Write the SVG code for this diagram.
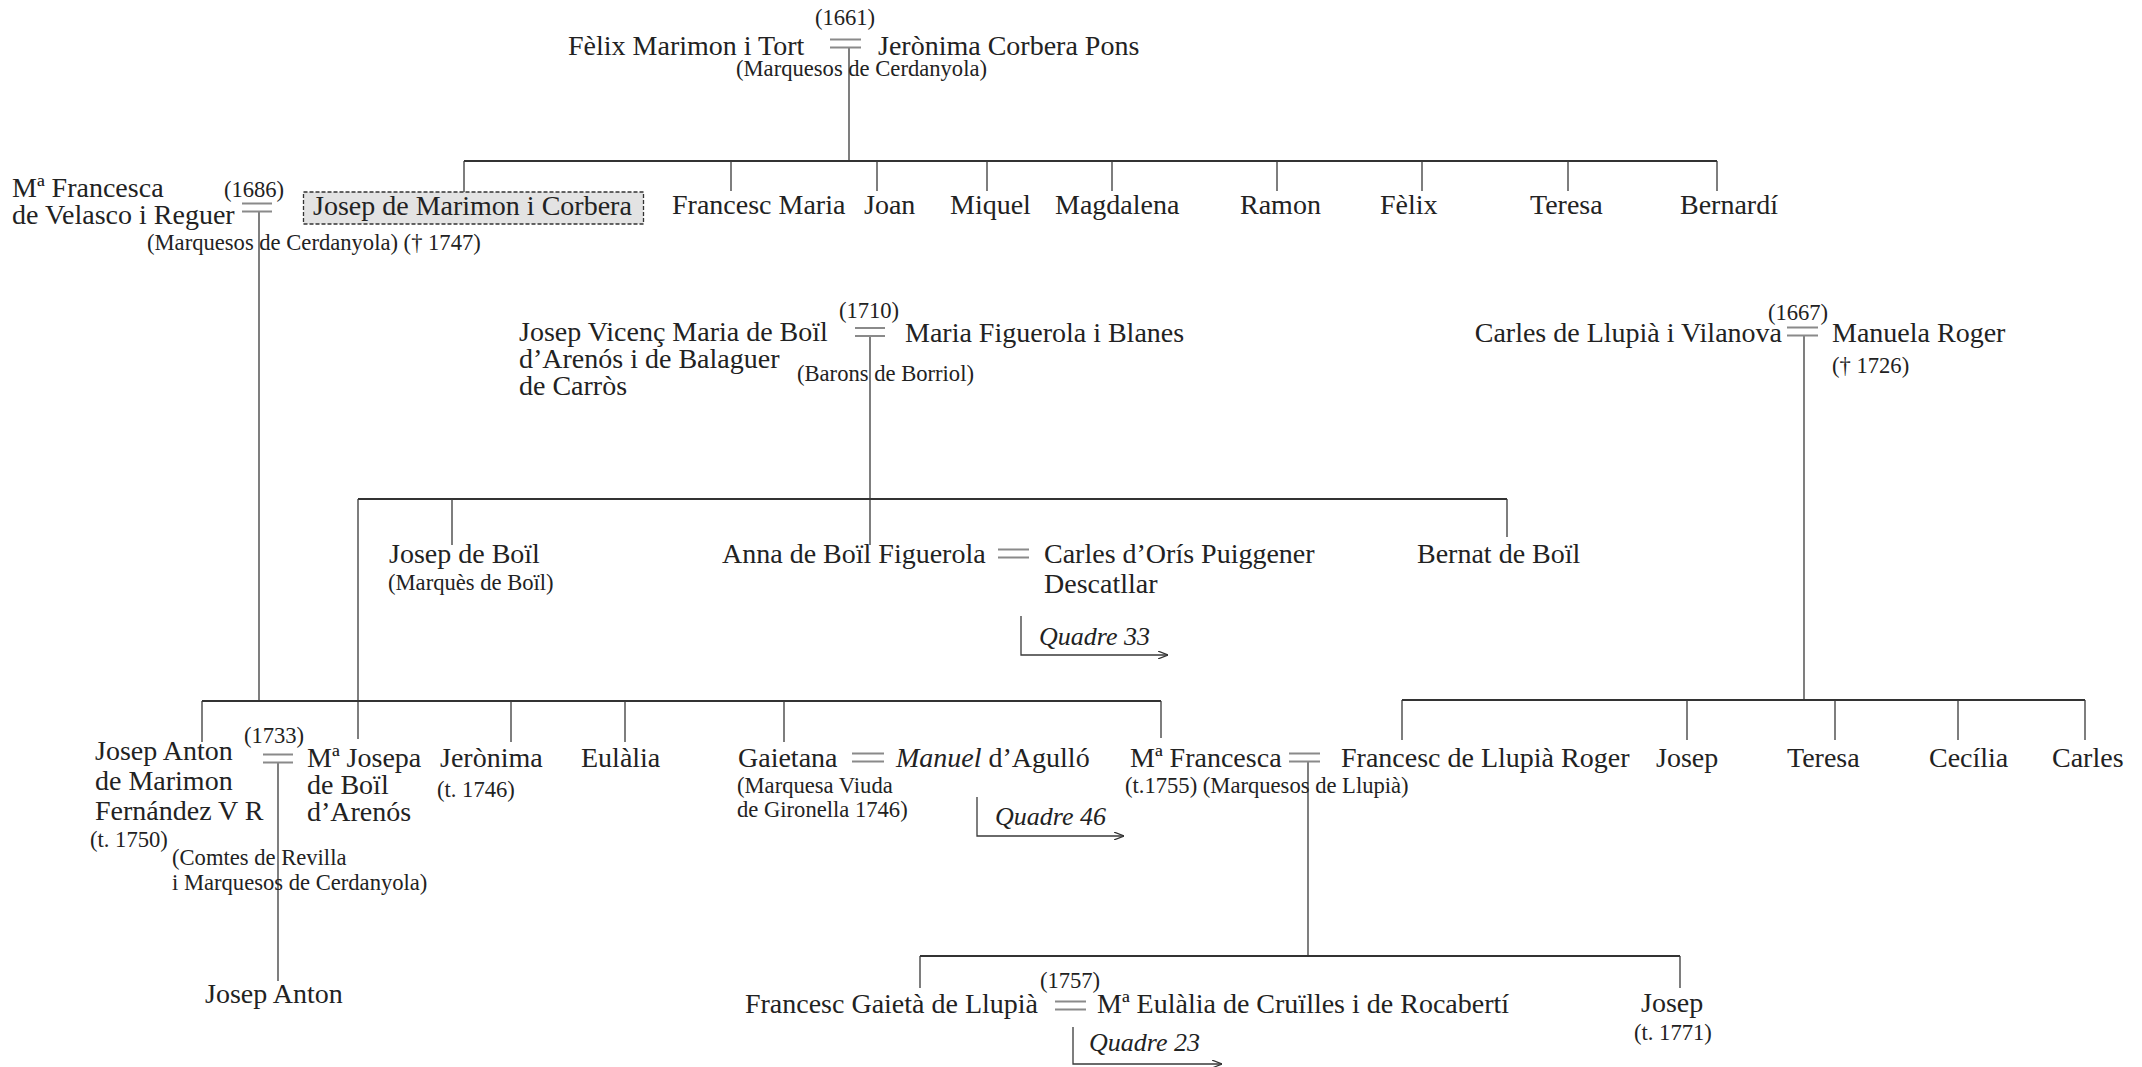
<svg xmlns="http://www.w3.org/2000/svg" width="2142" height="1067" viewBox="0 0 2142 1067">
<defs>
<style>
text{font-family:"Liberation Serif","DejaVu Serif",serif;font-size:28px;fill:#222}
.s{font-size:22.6px}
.i{font-style:italic;font-size:26px}
.c{stroke:#3a3a3a;stroke-width:1.3;fill:none}
.h{stroke:#333;stroke-width:2;fill:none}
.eq{stroke:#8a8a8a;stroke-width:2;fill:none}
.box{fill:#e3e3e3;stroke:#333;stroke-width:1.3;stroke-dasharray:4 2}
</style>
<marker id="arr" viewBox="0 0 10 8" refX="10" refY="4" markerWidth="10" markerHeight="8" markerUnits="userSpaceOnUse" orient="auto">
<path d="M0,0 L10,4 L0,8" fill="none" stroke="#333" stroke-width="1.2"/>
</marker>
</defs>
<rect width="2142" height="1067" fill="#fff"/>

<g id="connectors">
<!-- generation 1 -->
<path class="c" d="M849,48 V161"/>
<path class="h" d="M464,161 H1717"/>
<path class="c" d="M464,161 V192 M731,161 V191 M877,161 V191 M987,161 V191 M1112,161 V191 M1277,161 V191 M1422,161 V191 M1568,161 V191 M1717,161 V191"/>
<!-- Josep de Marimon line -->
<path class="c" d="M259,212 V701"/>
<!-- Boil -->
<path class="c" d="M870,336 V545"/>
<path class="h" d="M358,499 H1507"/>
<path class="c" d="M452,499 V545 M1507,499 V537 M358,499 V739"/>
<!-- Llupia -->
<path class="c" d="M1804,336 V700"/>
<path class="h" d="M1402,700 H2085"/>
<path class="c" d="M1402,700 V740 M1687,700 V740 M1835,700 V740 M1958,700 V740 M2085,700 V740"/>
<!-- generation 3 left -->
<path class="h" d="M202,701 H1161"/>
<path class="c" d="M202,701 V742 M511,701 V742 M625,701 V742 M784,701 V742 M1161,701 V738"/>
<path class="c" d="M278,763 V981"/>
<path class="c" d="M1308,762 V956"/>
<path class="h" d="M920,956 H1680"/>
<path class="c" d="M920,956 V988 M1680,956 V988"/>
<!-- Quadre references -->
<path class="c" d="M1021,616 V655 H1168" marker-end="url(#arr)"/>
<path class="c" d="M977,797 V836 H1124" marker-end="url(#arr)"/>
<path class="c" d="M1073,1027 V1064 H1222" marker-end="url(#arr)"/>
</g>

<g id="marriages">
<g id="m1661"><text class="s" x="845" y="25" text-anchor="middle">(1661)</text><path class="eq" d="M830,39.5 H861 M830,47.5 H861"/></g>
<g id="m1686"><text class="s" x="254" y="197" text-anchor="middle">(1686)</text><path class="eq" d="M242,203.5 H272 M242,211.5 H272"/></g>
<g id="m1710"><text class="s" x="869" y="318" text-anchor="middle">(1710)</text><path class="eq" d="M855,328 H885 M855,336 H885"/></g>
<g id="m1667"><text class="s" x="1798" y="320" text-anchor="middle">(1667)</text><path class="eq" d="M1787,327.5 H1818 M1787,335.5 H1818"/></g>
<g id="m-anna"><path class="eq" d="M998,549.5 H1029 M998,557.5 H1029"/></g>
<g id="m1733"><text class="s" x="274" y="743" text-anchor="middle">(1733)</text><path class="eq" d="M263,754.5 H293 M263,762.5 H293"/></g>
<g id="m-gaietana"><path class="eq" d="M852,753.5 H884 M852,761.5 H884"/></g>
<g id="m-francesca"><path class="eq" d="M1289,753.5 H1320 M1289,761.5 H1320"/></g>
<g id="m1757"><text class="s" x="1070" y="988" text-anchor="middle">(1757)</text><path class="eq" d="M1055,1001.5 H1086 M1055,1009.5 H1086"/></g>
</g>

<g id="felix"><text x="568" y="55">Fèlix Marimon i Tort</text></g>
<g id="jeronima"><text x="878" y="55">Jerònima Corbera Pons</text></g>
<g id="title-cerdanyola"><text class="s" x="736" y="76">(Marquesos de Cerdanyola)</text></g>

<g id="francesca-velasco">
<text x="12" y="197">Mª Francesca</text>
<text x="12" y="224">de Velasco i Reguer</text>
<text class="s" x="147" y="250">(Marquesos de Cerdanyola) († 1747)</text>
</g>
<g id="josep-marimon">
<rect class="box" x="303.5" y="192" width="340" height="32"/>
<text x="313" y="215">Josep de Marimon i Corbera</text>
</g>
<g id="francesc-maria"><text x="672" y="214">Francesc Maria</text></g>
<g id="joan"><text x="864" y="214">Joan</text></g>
<g id="miquel"><text x="950" y="214">Miquel</text></g>
<g id="magdalena"><text x="1055" y="214">Magdalena</text></g>
<g id="ramon"><text x="1240" y="214">Ramon</text></g>
<g id="felix2"><text x="1380" y="214">Fèlix</text></g>
<g id="teresa1"><text x="1530" y="214">Teresa</text></g>
<g id="bernardi"><text x="1680" y="214">Bernardí</text></g>

<g id="josep-vicenc">
<text x="519" y="341">Josep Vicenç Maria de Boïl</text>
<text x="519" y="368">d’Arenós i de Balaguer</text>
<text x="519" y="395">de Carròs</text>
</g>
<g id="maria-figuerola"><text x="905" y="342">Maria Figuerola i Blanes</text></g>
<g id="title-borriol"><text class="s" x="797" y="381">(Barons de Borriol)</text></g>

<g id="carles-llupia">
<text x="1782" y="342" text-anchor="end">Carles de Llupià i Vilanova</text>
</g>
<g id="manuela-roger">
<text x="1832" y="342">Manuela Roger</text>
<text class="s" x="1832" y="373">(† 1726)</text>
</g>

<g id="josep-boil">
<text x="389" y="563">Josep de Boïl</text>
<text class="s" x="388" y="590">(Marquès de Boïl)</text>
</g>
<g id="anna-boil"><text x="722" y="563">Anna de Boïl Figuerola</text></g>
<g id="carles-oris">
<text x="1044" y="563">Carles d’Orís Puiggener</text>
<text x="1044" y="593">Descatllar</text>
<text class="i" x="1039" y="645">Quadre 33</text>
</g>
<g id="bernat-boil"><text x="1417" y="563">Bernat de Boïl</text></g>

<g id="josep-anton">
<text x="95" y="760">Josep Anton</text>
<text x="95" y="790">de Marimon</text>
<text x="95" y="820">Fernández V R</text>
<text class="s" x="90" y="847">(t. 1750)</text>
</g>
<g id="title-revilla">
<text class="s" x="172" y="865">(Comtes de Revilla</text>
<text class="s" x="172" y="890">i Marquesos de Cerdanyola)</text>
</g>
<g id="josepa-boil">
<text x="307" y="767">Mª Josepa</text>
<text x="307" y="794">de Boïl</text>
<text x="307" y="821">d’Arenós</text>
</g>
<g id="jeronima2">
<text x="440" y="767">Jerònima</text>
<text class="s" x="437" y="797">(t. 1746)</text>
</g>
<g id="eulalia"><text x="581" y="767">Eulàlia</text></g>
<g id="gaietana">
<text x="738" y="767">Gaietana</text>
<text class="s" x="737" y="793">(Marquesa Viuda</text>
<text class="s" x="737" y="817">de Gironella 1746)</text>
</g>
<g id="manuel-agullo">
<text x="896" y="767"><tspan font-style="italic">Manuel</tspan> d’Agulló</text>
<text class="i" x="995" y="825">Quadre 46</text>
</g>
<g id="francesca2">
<text x="1130" y="767">Mª Francesca</text>
<text class="s" x="1125" y="793">(t.1755) (Marquesos de Llupià)</text>
</g>
<g id="francesc-llupia"><text x="1341" y="767">Francesc de Llupià Roger</text></g>
<g id="josep2"><text x="1656" y="767">Josep</text></g>
<g id="teresa2"><text x="1787" y="767">Teresa</text></g>
<g id="cecilia"><text x="1929" y="767">Cecília</text></g>
<g id="carles2"><text x="2052" y="767">Carles</text></g>

<g id="josep-anton2"><text x="205" y="1003">Josep Anton</text></g>
<g id="francesc-gaieta"><text x="1038" y="1013" text-anchor="end">Francesc Gaietà de Llupià</text></g>
<g id="eulalia-cruilles">
<text x="1097" y="1013">Mª Eulàlia de Cruïlles i de Rocabertí</text>
<text class="i" x="1089" y="1051">Quadre 23</text>
</g>
<g id="josep3">
<text x="1641" y="1012">Josep</text>
<text class="s" x="1634" y="1040">(t. 1771)</text>
</g>
</svg>
